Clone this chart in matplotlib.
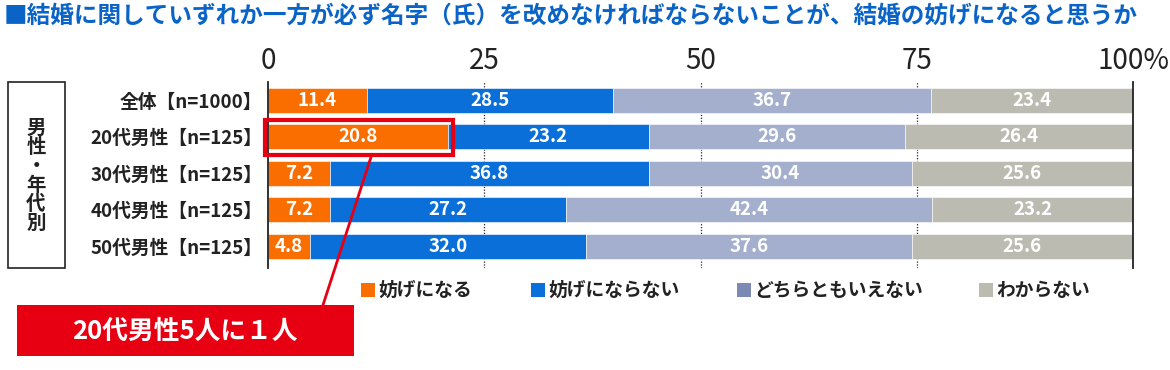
import matplotlib
matplotlib.use("Agg")
import matplotlib.pyplot as plt
from matplotlib.patches import Rectangle, ConnectionPatch
import numpy as np

plt.rcParams['font.family'] = ['Noto Sans CJK JP', 'DejaVu Sans']

# Data
title = "■結婚に関していずれか一方が必ず名字（氏）を改めなければならないことが、結婚の妨げになると思うか"
groups = ["全体【n=1000】", "20代男性【n=125】", "30代男性【n=125】", "40代男性【n=125】", "50代男性【n=125】"]
series = ["妨げになる", "妨げにならない", "どちらともいえない", "わからない"]
hinders = [11.4, 20.8, 7.2, 7.2, 4.8]
not_hinders = [28.5, 23.2, 36.8, 27.2, 32.0]
neither = [36.7, 29.6, 30.4, 42.4, 37.6]
unknown = [23.4, 26.4, 25.6, 23.2, 25.6]
ticks = [0, 25, 50, 75, 100]
tick_labels = ["0", "25", "50", "75", "100%"]

bar_colors = ["#fa6e00", "#0a6fd9", "#a4aecd", "#bbbbb1"]
legend_colors = ["#fa6e00", "#0a6fd9", "#7b89b4", "#bbbbb1"]

fig = plt.figure(figsize=(11.7, 3.7), dpi=100)
ax = fig.add_axes([268 / 1170, 1 - 268 / 370, 865 / 1170, 186 / 370])

values = [hinders, not_hinders, neither, unknown]
y = np.arange(len(groups))
left = np.zeros(len(groups))
for vals, color in zip(values, bar_colors):
    vals = np.array(vals)
    ax.barh(y, vals, left=left, height=0.68, color=color, edgecolor='white', linewidth=0.4)
    for yi, l, v in zip(y, left, vals):
        ax.text(l + v / 2, yi, f"{v:.1f}", ha='center', va='center', color='white',
                fontsize=13.5, fontweight='bold')
    left += vals

ax.set_xlim(0, 100)
ax.set_ylim(4.6, -0.5)
ax.set_yticks(y)
ax.set_yticklabels(groups, fontsize=13.5, fontweight='bold', color='#222222')
ax.tick_params(axis='y', length=0, pad=4)
ax.xaxis.tick_top()
ax.set_xticks(ticks)
ax.set_xticklabels(tick_labels, fontsize=20, color='#222222')
ax.tick_params(axis='x', length=0, pad=4)
for t in ticks[1:-1]:
    ax.axvline(t, color='#222222', linestyle=(0, (1, 1.3)), linewidth=0.9, zorder=0)
for s in ['top', 'bottom']:
    ax.spines[s].set_visible(False)
for s in ['left', 'right']:
    ax.spines[s].set_linewidth(1.3)
    ax.spines[s].set_color('#222222')

# Highlight box around the 20s-male "hinders" bar
hl = Rectangle((-0.35, 0.53), hinders[1] + 0.95, 0.96, fill=False, edgecolor='#e60012',
               linewidth=3, clip_on=False, zorder=5)
ax.add_patch(hl)

# Title
fig.text(0.003, 1 - 16 / 370, title, fontsize=17, fontweight='bold', color='#0a64c8',
         ha='left', va='center')

# Vertical group box
fig.patches.append(Rectangle((8 / 1170, 1 - 268 / 370), 57 / 1170, 186 / 370, fill=False,
                             edgecolor='#222222', linewidth=1.2, transform=fig.transFigure))
fig.text(36 / 1170, 1 - 176 / 370, "男\n性\n・\n年\n代\n別", fontsize=14, fontweight='bold',
         ha='center', va='center', linespacing=1.0, color='#222222')

# Legend
legend_x = [361, 531, 737, 979]
for name, color, lx in zip(series, legend_colors, legend_x):
    fig.patches.append(Rectangle((lx / 1170, 1 - 297 / 370), 14 / 1170, 14 / 370,
                                 facecolor=color, edgecolor='none', transform=fig.transFigure))
    fig.text((lx + 17) / 1170, 1 - 290 / 370, name, fontsize=13.5, fontweight='bold',
             color='#222222', ha='left', va='center')

# Callout
fig.patches.append(Rectangle((17 / 1170, 1 - 356 / 370), 337 / 1170, 51 / 370,
                             facecolor='#e60012', edgecolor='none', transform=fig.transFigure))
fig.text(185 / 1170, 1 - 331 / 370, "20代男性5人に１人", fontsize=18.5, fontweight='bold',
         color='white', ha='center', va='center')
con = ConnectionPatch(xyA=(12.0, 1.49), coordsA=ax.transData,
                      xyB=(323 / 1170, 1 - 305 / 370), coordsB=fig.transFigure,
                      color='#e60012', linewidth=2)
fig.add_artist(con)

fig.savefig("out.png", dpi=100)
